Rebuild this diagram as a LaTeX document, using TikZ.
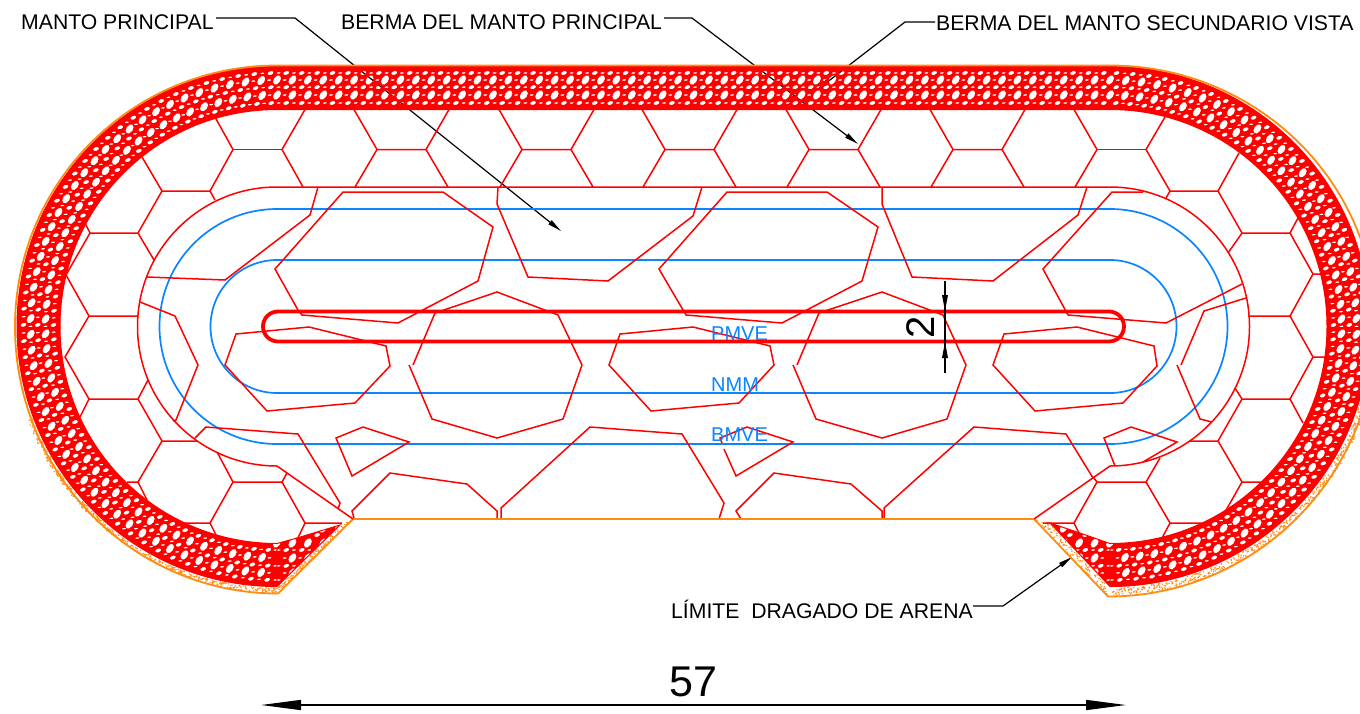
\documentclass[tikz,border=0pt]{standalone}
\usepackage{fontspec}
\setmainfont{Liberation Sans}
\usetikzlibrary{arrows.meta}
\definecolor{cadblue}{HTML}{0A84FF}
\definecolor{cadorange}{HTML}{FF8C10}
\tikzset{
  rk/.style={draw=red,line width=1.5pt,line join=miter},
  blueline/.style={draw=cadblue,line width=1.7pt},
  orangeline/.style={draw=cadorange,line width=1.8pt,line join=miter},
  leader/.style={draw=black,line width=1.2pt,-{Triangle[length=14pt,width=5pt]}},
  dimline/.style={draw=black,line width=1.5pt},
  lab/.style={anchor=base west,inner sep=0pt,font=\fontsize{21.2}{24}\selectfont,text=black},
  bluelab/.style={anchor=base west,inner sep=0pt,font=\fontsize{20}{24}\selectfont,text=cadblue},
  holeL/.style={x radius=5.2pt,y radius=3.4pt,rotate=-55},
  holeS/.style={x radius=3.1pt,y radius=1.9pt,rotate=-20},
  holeT/.style={x radius=2.2pt,y radius=0.8pt,rotate=-5},
}
\newcommand{\bandoutline}{(277,66.5) -- (1110,66.5) arc[start angle=-90,end angle=90,radius=260pt]
  -- (1050,523) -- (1080,533) -- (1110,543.5) arc[start angle=90,end angle=-90,radius=217pt]
  -- (277,109.5) arc[start angle=-90,end angle=-270,radius=217pt]
  -- (297,538) -- (340,525) -- (277,586.5) arc[start angle=90,end angle=270,radius=260pt] -- cycle}
% #1 radii, #2 hole style, #3 phase, #4 last index of the straight run
\newcommand{\holeset}[4]{%
  \foreach \r in {#1}{
    \foreach \k in {0,...,#4}{ ([shift={({277+(\k+#3)*15.426},326.5)}]-90:\r) circle[#2] }
    \foreach \k in {0,...,4}{ ([shift={({277+(\k+#3)*15.426},326.5)}]90:\r) circle[#2] }
    \foreach \k in {0,...,4}{ ([shift={({1110-(\k+#3)*15.426},326.5)}]90:\r) circle[#2] }
    \foreach \k [evaluate=\k as \a using -90-(\k-#3)*3.673] in {1,...,49}{ ([shift={(277,326.5)}]\a:\r) circle[#2] }
    \foreach \k [evaluate=\k as \a using -90+(\k-#3)*3.673] in {1,...,49}{ ([shift={(1110,326.5)}]\a:\r) circle[#2] }
  }}
\newcommand{\wedgeset}[3]{%
  \foreach \r in {#1}{
    \foreach \k in {0,...,4}{ ([shift={({277+(\k+#3)*15.426},326.5)}]90:\r) circle[#2] }
    \foreach \k in {0,...,4}{ ([shift={({1110-(\k+#3)*15.426},326.5)}]90:\r) circle[#2] }
  }}
\begin{document}
\begin{tikzpicture}[x=1pt,y=1pt,yscale=-1]
\useasboundingbox (0,0) rectangle (1360,713);
\clip (0,0) rectangle (1360,713);
\fill[white] (0,0) rectangle (1360,713);

% labels and leaders
\node[lab] (lmanto) at (21,29) {MANTO PRINCIPAL};
\node[lab] (lberma) at (341,29) {BERMA DEL MANTO PRINCIPAL};
\node[lab] (lsec) at (936,30) {BERMA DEL MANTO SECUNDARIO VISTA};
\node[lab] (llim) at (671,618) {LÍMITE\ \ DRAGADO DE ARENA};
\coordinate (e1) at (295,18); \coordinate (t1) at (561,231);
\coordinate (e2) at (692,18); \coordinate (t2) at (858,144);
\coordinate (e3) at (905,22); \coordinate (t3) at (817,90);
\coordinate (e4) at (1003,606); \coordinate (t4) at (1072,557);
\coordinate (s1) at (216,18); \coordinate (s2) at (664,18);
\coordinate (s3) at (935,22); \coordinate (s4) at (973,606);
\draw[leader] (s1) -- (e1) -- (t1);
\draw[leader] (s2) -- (e2) -- (t2);
\draw[leader] (s3) -- (e3) -- (t3);
\draw[leader] (s4) -- (e4) -- (t4);

% armour band with holes
\begin{scope}
\clip \bandoutline;
\fill[red,even odd rule] (-10,-10) rectangle (1400,720)
  \holeset{246.5,231.5}{holeL}{0}{54}
  \holeset{246.5,231.5}{holeT}{.5}{53}
  \holeset{253.5,239.3,223.5}{holeS}{.6}{53}
  \holeset{253.5,239.3,223.5}{holeT}{.1}{53}
  \wedgeset{216.5,201.5}{holeL}{0}
  \wedgeset{208.5,194}{holeS}{.6};
\end{scope}
\draw[red,line width=1pt] \bandoutline;

% speckles of the dredge limit
\pgfmathsetseed{11}
\foreach \i in {1,...,420}{
  \pgfmathsetmacro{\a}{-270+70*rnd}
  \pgfmathsetmacro{\r}{261.5+4.5*rnd}
  \fill[cadorange,shift={(277,326.5)}] (\a:\r) circle[radius=0.8pt];
}
\foreach \i in {1,...,650}{
  \pgfmathsetmacro{\a}{90-95*rnd}
  \pgfmathsetmacro{\r}{261.5+7*rnd}
  \fill[cadorange,shift={(1110,326.5)}] (\a:\r) circle[radius=0.8pt];
}
\foreach \i in {1,...,110}{
  \pgfmathsetmacro{\t}{rnd}
  \pgfmathsetmacro{\u}{rnd}
  \fill[cadorange] ({(340+(278-340)*\t)*(1-\u)+(353+(278-353)*\t)*\u},{(526+(587-526)*\t)*(1-\u)+(519+(593-519)*\t)*\u}) circle[radius=0.8pt];
}
\foreach \i in {1,...,110}{
  \pgfmathsetmacro{\t}{rnd}
  \pgfmathsetmacro{\u}{rnd}
  \fill[cadorange] ({(1050+(1108-1050)*\t)*(1-\u)+(1034+(1108-1034)*\t)*\u},{(523+(587-523)*\t)*(1-\u)+(519+(596-519)*\t)*\u}) circle[radius=0.8pt];
}
% dredge limit
\draw[orangeline] (353,519) -- (278,593.5) arc[start angle=90,end angle=180,x radius=263pt,y radius=267pt]
  arc[start angle=180,end angle=270,x radius=262pt,y radius=261pt] -- (1110,65.5)
  arc[start angle=-90,end angle=0,x radius=266pt,y radius=261pt]
  arc[start angle=0,end angle=90,x radius=268pt,y radius=270pt]
  -- (1034,519) -- cycle;

% top row of secondary units
\foreach \a in {377,522,665,809,953}{
  \draw[rk] (\a-23,109.5) -- (\a,149.5) -- (\a+49,149.5) -- (\a+72,109.5);
  \draw[rk] (\a-22,187) -- (\a,149.5);
  \draw[rk] (\a+49,149.5) -- (\a+71,187);
}
\draw[rk] (282,149.5) -- (305,109.5);
\draw[rk] (282,149.5) -- (303,187);
\draw[rk] (233,149.5) -- (282,149.5);
\draw[rk] (1097,149.5) -- (1074,109.5);
\draw[rk] (1097,149.5) -- (1075,187);
\draw[rk] (1097,149.5) -- (1146,149.5);
% left units
\draw[rk] (215,117) -- (233,149.5) -- (210,191) -- (162,191) -- (142,157);
\draw[rk] (210,191) -- (215,200);
\draw[rk] (162,191) -- (138,233) -- (90,233) -- (85,223);
\draw[rk] (138,233) -- (154,260);
\draw[rk] (90,233) -- (66,275) -- (89,316) -- (138,316);
\draw[rk] (89,316) -- (65,357) -- (89,399) -- (138,399) -- (148,380);
\draw[rk] (138,399) -- (162,441) -- (197,441);
\draw[rk] (89,399) -- (80,417);
\draw[rk] (162,441) -- (138,482) -- (127,482);
\draw[rk] (138,482) -- (148,502);
\draw[rk] (217,452) -- (233,482) -- (282,482) -- (287,473);
\draw[rk] (233,482) -- (210,523) -- (183,523);
\draw[rk] (210,523) -- (217,537);
\draw[rk] (282,482) -- (305,523) -- (342,523);
\draw[rk] (305,523) -- (297,540);
% right units
\draw[rk] (1165,117) -- (1146,149.5) -- (1170,191) -- (1166,198);
\draw[rk] (1170,191) -- (1218,191) -- (1239,153);
\draw[rk] (1218,191) -- (1242,233) -- (1290,233) -- (1298,218);
\draw[rk] (1242,233) -- (1228,253);
\draw[rk] (1290,233) -- (1313,274) -- (1323,274);
\draw[rk] (1313,274) -- (1290,316) -- (1248,316);
\draw[rk] (1290,316) -- (1313,357) -- (1325,357);
\draw[rk] (1313,357) -- (1290,399) -- (1303,423);
\draw[rk] (1290,399) -- (1242,399) -- (1235,388);
\draw[rk] (1242,399) -- (1218,441) -- (1190,441);
\draw[rk] (1218,441) -- (1242,482) -- (1263,482);
\draw[rk] (1242,482) -- (1225,512);
\draw[rk] (1146,482) -- (1097,482) -- (1093,477);
\draw[rk] (1146,482) -- (1160,458);
\draw[rk] (1146,482) -- (1170,523) -- (1203,523);
\draw[rk] (1170,523) -- (1162,538);
\draw[rk] (1097,482) -- (1074,523) -- (1043,523);
\draw[rk] (1074,523) -- (1080,535);

% water levels
\draw[blueline] (277,209) -- (1110,209) arc[start angle=-90,end angle=90,radius=117.5pt] -- (277,444) arc[start angle=90,end angle=270,radius=117.5pt];
\draw[blueline] (277,260) -- (1110,260) arc[start angle=-90,end angle=90,radius=66.5pt] -- (277,393) arc[start angle=90,end angle=270,radius=66.5pt];

% main armour outline
\draw[rk] (353,519) -- (277,466) arc[start angle=90,end angle=270,radius=139.5pt] -- (1110,187) arc[start angle=-90,end angle=90,radius=139.5pt] -- (1034,519);

% armour units
\draw[rk] (147,277) -- (225,280) -- (310,215) -- (318,187);
\draw[rk] (140,302) -- (175,316) -- (198,365) -- (176,420) -- (173,421);
\draw[rk] (443,192) -- (343,192) -- (275,269) -- (298,310) -- (302,315) -- (398,323) -- (478,281) -- (493,227) -- cycle;
\draw[rk] (498,187) -- (497,204) -- (528,277) -- (608,281) -- (693,216) -- (702,187);
\draw[rk] (727,192) -- (659,269) -- (686,315) -- (782,323) -- (862,281) -- (878,227) -- (827,192) -- cycle;
\draw[rk] (882,187) -- (882,204) -- (912,277) -- (993,281) -- (1078,215) -- (1087,187);
\draw[rk] (1143,192) -- (1112,192) -- (1043,269) -- (1068,315) -- (1166,323) -- (1242,284);
\draw[rk] (1246,298) -- (1204,311) -- (1181,365);
\draw[rk] (1177,365) -- (1200,419) -- (1212,422);
\draw[rk] (225,365) -- (236,334) -- (309,327) -- (386,346) -- (390,366) -- (355,403) -- (267,411) -- cycle;
\draw[rk] (609,365) -- (620,334) -- (693,327) -- (770,346) -- (774,365) -- (739,403) -- (651,411) -- cycle;
\draw[rk] (993,365) -- (1004,334) -- (1077,327) -- (1154,346) -- (1157,366) -- (1123,403) -- (1035,411) -- cycle;
\draw[rk] (413,365) -- (435,313) -- (497,292) -- (558,315) -- (582,365) -- (563,419) -- (497,438) -- (432,419) -- (409,365);
\draw[rk] (797,365) -- (819,313) -- (882,292) -- (943,315) -- (966,365) -- (947,419) -- (882,438) -- (816,419) -- (793,365);
\draw[rk] (195,438) -- (206,427) -- (298,434) -- (340,503) -- (338,509);
\draw[rk] (336,438) -- (363,427) -- (409,442) -- (352,476) -- cycle;
\draw[rk] (724,449) -- (736,476) -- (793,442) -- (747,427) -- (720,438) -- (722,443);
\draw[rk] (1115,466) -- (1104,438) -- (1131,427) -- (1177,442) -- (1143,462);
\draw[rk] (354,518) -- (352,511) -- (390,473) -- (467,484) -- (497,511) -- (497,519);
\draw[rk] (501,519) -- (501,508) -- (590,427) -- (682,434) -- (724,503) -- (719,519);
\draw[rk] (741,519) -- (736,511) -- (774,473) -- (851,484) -- (882,511) -- (882,519);
\draw[rk] (884,519) -- (884,508) -- (974,427) -- (1066,434) -- (1093,478);

% sea bed limit in front
\draw[orangeline] (353,519) -- (1034,519);

% crest slot
\draw[red,line width=3.8pt] (278,311.5) -- (1109,311.5) arc[start angle=-90,end angle=90,radius=15pt] -- (278,341.5) arc[start angle=90,end angle=270,radius=15pt] -- cycle;

% level labels
\node[bluelab] (pmve) at (711,340.5) {PMVE};
\node[bluelab] (nmm) at (711,391) {NMM};
\node[bluelab] (bmve) at (711,441) {BMVE};

% dimensions
\coordinate (d2a) at (945,281); \coordinate (d2c) at (945,373);
\draw[dimline] (d2a) -- (d2c);
\fill[black] (945,311) -- (942,295) -- (948,295) -- cycle;
\fill[black] (945,342) -- (942,358) -- (948,358) -- cycle;
\node[rotate=90,anchor=center,inner sep=0pt,font=\fontsize{40}{44}\selectfont,text=black] (dtwo) at (920.5,327) {2};
\coordinate (d57a) at (261,705); \coordinate (d57b) at (1126,705);
\draw[dimline,{Triangle[length=40pt,width=10pt]}-{Triangle[length=40pt,width=10pt]}] (d57a) -- (d57b);
\node[anchor=center,inner sep=0pt,font=\fontsize{43}{46}\selectfont,text=black] (dfsv) at (693,682) {57};
\end{tikzpicture}
\end{document}
